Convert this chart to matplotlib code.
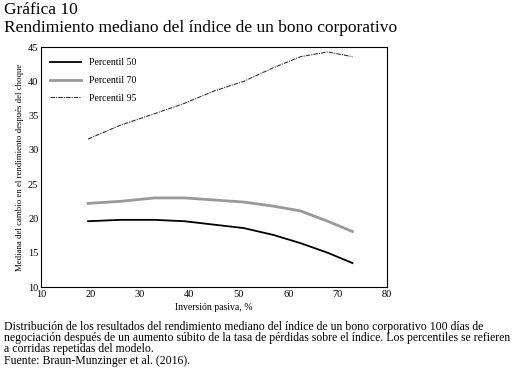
import matplotlib.pyplot as plt

plt.rcParams['font.family'] = ['Liberation Serif', 'DejaVu Serif']

inversion = [19.5, 26, 33, 39, 45, 51, 57, 62.5, 68, 73]
p50 = [19.6, 19.8, 19.8, 19.6, 19.1, 18.6, 17.6, 16.4, 15.0, 13.5]
p70 = [22.2, 22.5, 23.0, 23.0, 22.7, 22.4, 21.8, 21.1, 19.6, 18.1]
p95 = [31.6, 33.6, 35.3, 36.8, 38.6, 40.0, 42.0, 43.6, 44.3, 43.6]

fig = plt.figure(figsize=(5.28, 3.68), dpi=100)
ax = fig.add_axes([0.078, 0.22, 0.655, 0.652])

ax.plot(inversion, p50, color='black', lw=1.3, label='Percentil 50')
ax.plot(inversion, p70, color='#999999', lw=2.0, label='Percentil 70')
ax.plot(inversion, p95, color='#333333', lw=0.8, ls=(0, (4, 1, 1, 1)), label='Percentil 95')

ax.set_xlim(10, 80)
ax.set_ylim(10, 45)
ax.set_xticks(range(10, 81, 10))
ax.set_yticks(range(10, 46, 5))
ax.tick_params(labelsize=7.5, length=0, pad=2)
ax.set_xlabel('Inversión pasiva, %', fontsize=7, labelpad=3)
ax.set_ylabel('Mediana del cambio en el rendimiento después del choque', fontsize=6.3, labelpad=3)
ax.legend(loc='upper left', frameon=False, fontsize=7, handlelength=3.2,
          bbox_to_anchor=(0.0, 0.99), labelspacing=0.9)

fig.text(0.008, 0.995, 'Gráfica 10', fontsize=12.5, va='top')
fig.text(0.008, 0.945, 'Rendimiento mediano del índice de un bono corporativo', fontsize=12.5, va='top')

caption = ('Distribución de los resultados del rendimiento mediano del índice de un bono corporativo 100 días de\n'
           'negociación después de un aumento súbito de la tasa de pérdidas sobre el índice. Los percentiles se refieren\n'
           'a corridas repetidas del modelo.\n'
           'Fuente: Braun-Munzinger et al. (2016).')
fig.text(0.008, 0.128, caption, fontsize=8.5, va='top', linespacing=0.92)

fig.savefig('out.png', dpi=100)
